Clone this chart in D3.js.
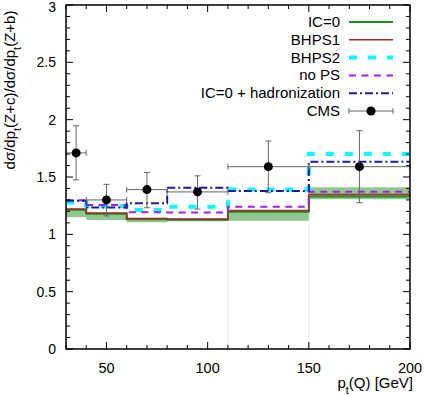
<!DOCTYPE html>
<html>
<head>
<meta charset="utf-8">
<script src="https://cdn.jsdelivr.net/npm/d3@7"></script>
<style>
  body { margin: 0; background: #fff; }
  text { font-family: "Liberation Sans", Arial, sans-serif; }
</style>
</head>
<body>
<div id="chart"></div>
<script>
// bin edges in p_t(Q) [GeV]
const edges = [30, 40, 60, 80, 110, 150, 200];

// ratio per bin
const ic0 = [1.215, 1.180, 1.132, 1.128, 1.197, 1.330];
const ic0Low = [1.150, 1.125, 1.105, 1.115, 1.118, 1.305];
const ic0High = [1.218, 1.183, 1.145, 1.135, 1.200, 1.410];
const bhps1 = [1.220, 1.185, 1.138, 1.134, 1.208, 1.348];
const bhps2 = [1.277, 1.246, 1.213, 1.241, 1.390, 1.700];
const noPS = [1.298, 1.255, 1.192, 1.190, 1.241, 1.372];
const hadr = [1.292, 1.233, 1.270, 1.407, 1.377, 1.634];

// CMS points
const cmsX = [35, 50, 70, 95, 130, 175];
const cmsDx = [5, 10, 10, 15, 20, 25];
const cmsY = [1.71, 1.30, 1.39, 1.37, 1.59, 1.59];
const cmsLo = [1.475, 1.16, 1.232, 1.22, 1.363, 1.276];
const cmsHi = [1.947, 1.436, 1.54, 1.51, 1.814, 1.904];

const xTicks = [50, 100, 150, 200];
const yTicks = [0, 0.5, 1, 1.5, 2, 2.5, 3];

const width = 425, height = 395;
const margin = {top: 5, right: 15, bottom: 46, left: 66};
const iw = width - margin.left - margin.right;
const ih = height - margin.top - margin.bottom;

const svg = d3.select("#chart").append("svg")
    .attr("width", width)
    .attr("height", height);

const g = svg.append("g")
    .attr("transform", `translate(${margin.left},${margin.top})`);

const x = d3.scaleLinear().domain([30, 200]).range([0, iw]);
const y = d3.scaleLinear().domain([0, 3]).range([ih, 0]);

const stepData = vals => edges.map((e, i) => [e, vals[Math.min(i, vals.length - 1)]]);
const line = d3.line().x(d => x(d[0])).y(d => y(d[1])).curve(d3.curveStepAfter);

// band
const area = d3.area()
    .x(d => x(d[0]))
    .y0(d => y(d[1]))
    .y1(d => y(d[2]))
    .curve(d3.curveStepAfter);
const bandData = edges.map((e, i) => {
  const k = Math.min(i, ic0.length - 1);
  return [e, ic0Low[k], ic0High[k]];
});
g.append("path").datum(bandData)
    .attr("d", area)
    .attr("fill", "#8fc98f");

// faint verticals under the band
[110, 150].forEach(v => {
  const k = edges.indexOf(v);
  g.append("line")
      .attr("x1", x(v)).attr("x2", x(v))
      .attr("y1", y(Math.min(ic0Low[k - 1], ic0Low[k]))).attr("y2", ih)
      .attr("stroke", "#e6e6e6").attr("stroke-width", 1);
});

const series = [
  {name: "IC=0", vals: ic0, color: "#228b22", w: 2, dash: null},
  {name: "BHPS1", vals: bhps1, color: "#a52a2a", w: 1.5, dash: null},
  {name: "BHPS2", vals: bhps2, color: "#00ffff", w: 4, dash: "8,11"},
  {name: "no PS", vals: noPS, color: "#a020f0", w: 2, dash: "7,5.5"},
  {name: "IC=0 + hadronization", vals: hadr, color: "#1a1a9c", w: 2, dash: "8,3,2,3"}
];

series.forEach(s => {
  g.append("path").datum(stepData(s.vals))
      .attr("d", line)
      .attr("fill", "none")
      .attr("stroke", s.color)
      .attr("stroke-width", s.w)
      .attr("stroke-dasharray", s.dash);
});

// CMS error bars
const eb = g.append("g").attr("stroke", "#666").attr("stroke-width", 1);
cmsX.forEach((cx, i) => {
  const px = x(cx), py = y(cmsY[i]);
  const xl = x(cx - cmsDx[i]), xr = x(cx + cmsDx[i]);
  const yt = y(cmsHi[i]), yb = y(cmsLo[i]);
  eb.append("line").attr("x1", xl).attr("x2", xr).attr("y1", py).attr("y2", py);
  eb.append("line").attr("x1", xl).attr("x2", xl).attr("y1", py - 3).attr("y2", py + 3);
  eb.append("line").attr("x1", xr).attr("x2", xr).attr("y1", py - 3).attr("y2", py + 3);
  eb.append("line").attr("x1", px).attr("x2", px).attr("y1", yt).attr("y2", yb);
  eb.append("line").attr("x1", px - 3).attr("x2", px + 3).attr("y1", yt).attr("y2", yt);
  eb.append("line").attr("x1", px - 3).attr("x2", px + 3).attr("y1", yb).attr("y2", yb);
});
g.selectAll(".pt")
    .data(cmsX)
    .join("circle")
    .attr("cx", d => x(d))
    .attr("cy", (d, i) => y(cmsY[i]))
    .attr("r", 4.5)
    .attr("fill", "#000");

// axes with mirrored ticks
const tickLine = (x1, y1, x2, y2) => g.append("line")
    .attr("x1", x1).attr("y1", y1).attr("x2", x2).attr("y2", y2)
    .attr("stroke", "#000").attr("stroke-width", 1);

d3.range(30, 201, 10).forEach(v => {
  const len = v % 50 === 0 ? 7 : 4;
  tickLine(x(v), ih, x(v), ih - len);
  tickLine(x(v), 0, x(v), len);
});
d3.range(0, 30.1, 1).map(d => d / 10).forEach(v => {
  const len = Math.round(v * 10) % 5 === 0 ? 7 : 4;
  tickLine(0, y(v), len, y(v));
  tickLine(iw, y(v), iw - len, y(v));
});

g.append("rect")
    .attr("width", iw).attr("height", ih)
    .attr("fill", "none").attr("stroke", "#000").attr("stroke-width", 1.5);

g.selectAll(".xl")
    .data(xTicks)
    .join("text")
    .attr("x", d => x(d))
    .attr("y", ih + 24)
    .attr("text-anchor", "middle")
    .attr("font-size", 14.5)
    .text(d => d);

g.selectAll(".yl")
    .data(yTicks)
    .join("text")
    .attr("x", -10)
    .attr("y", d => Math.max(y(d) + 5, 7))
    .attr("text-anchor", "end")
    .attr("font-size", 14)
    .text(d => d);

// axis titles
const xt = svg.append("text")
    .attr("x", 413).attr("y", 388)
    .attr("text-anchor", "end")
    .attr("font-size", 15);
xt.append("tspan").text("p");
xt.append("tspan").attr("baseline-shift", "sub").attr("font-size", 11).text("t");
xt.append("tspan").text("(Q) [GeV]");

const yt = svg.append("text")
    .attr("transform", "translate(15,90) rotate(-90)")
    .attr("text-anchor", "middle")
    .attr("font-size", 15);
yt.append("tspan").text("dσ/dp");
yt.append("tspan").attr("baseline-shift", "sub").attr("font-size", 11).text("t");
yt.append("tspan").text("(Z+c)/dσ/dp");
yt.append("tspan").attr("baseline-shift", "sub").attr("font-size", 11).text("t");
yt.append("tspan").text("(Z+b)");

// legend
const leg = svg.append("g");
const rowY = i => 22 + i * 17.8;
series.forEach((s, i) => {
  leg.append("text")
      .attr("x", 340).attr("y", rowY(i) + 5)
      .attr("text-anchor", "end")
      .attr("font-size", 15)
      .text(s.name);
  leg.append("line")
      .attr("x1", 349).attr("x2", 393)
      .attr("y1", rowY(i)).attr("y2", rowY(i))
      .attr("stroke", s.color)
      .attr("stroke-width", s.w)
      .attr("stroke-dasharray", s.dash);
});
const cy = rowY(5);
leg.append("text")
    .attr("x", 340).attr("y", cy + 5)
    .attr("text-anchor", "end")
    .attr("font-size", 15)
    .text("CMS");
const lg = leg.append("g").attr("stroke", "#666");
lg.append("line").attr("x1", 349).attr("x2", 393).attr("y1", cy).attr("y2", cy);
lg.append("line").attr("x1", 349).attr("x2", 349).attr("y1", cy - 3).attr("y2", cy + 3);
lg.append("line").attr("x1", 393).attr("x2", 393).attr("y1", cy - 3).attr("y2", cy + 3);
leg.append("circle").attr("cx", 371).attr("cy", cy).attr("r", 4.5).attr("fill", "#000");
</script>
</body>
</html>
